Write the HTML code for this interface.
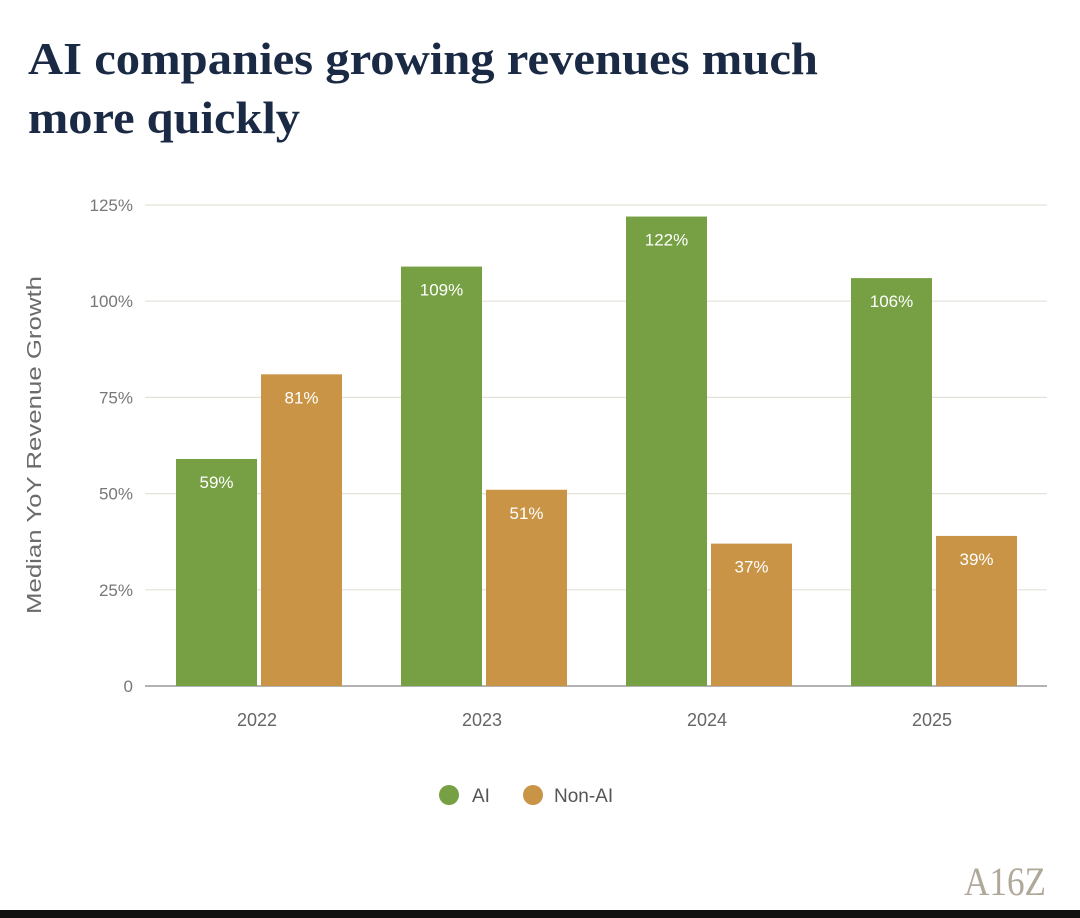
<!DOCTYPE html>
<html><head><meta charset="utf-8"><style>
html,body{margin:0;padding:0;background:#fff;width:1080px;height:918px;overflow:hidden}
</style></head><body>
<svg id="chart" width="1080" height="918" xmlns="http://www.w3.org/2000/svg">
<rect width="1080" height="918" fill="#fff"/>
<text x="28" y="74" textLength="790" lengthAdjust="spacingAndGlyphs" font-family="Liberation Serif, serif" font-size="46" font-weight="bold" fill="#1b2a44">AI companies growing revenues much</text>
<text x="28" y="133" textLength="272" lengthAdjust="spacingAndGlyphs" font-family="Liberation Serif, serif" font-size="46" font-weight="bold" fill="#1b2a44">more quickly</text>
<g id="grid"></g><g id="bars"></g>
<text transform="translate(41,445) rotate(-90)" text-anchor="middle" textLength="338" lengthAdjust="spacingAndGlyphs" font-family="Liberation Sans, sans-serif" font-size="20" fill="#6b6b6b">Median YoY Revenue Growth</text>
<g>
<circle cx="449" cy="795" r="10" fill="#76a043"/>
<text x="472" y="802" font-family="Liberation Sans, sans-serif" font-size="19" fill="#555">AI</text>
<circle cx="533" cy="795" r="10" fill="#c99446"/>
<text x="554" y="802" font-family="Liberation Sans, sans-serif" font-size="19" fill="#555">Non-AI</text>
</g>
<text x="1005" y="895" text-anchor="middle" textLength="82" lengthAdjust="spacingAndGlyphs" font-family="Liberation Serif, serif" font-size="40" fill="#b0a999">A16Z</text>
<rect x="0" y="910" width="1080" height="8" fill="#111"/>
</svg>
<script>
const categories = ["2022","2023","2024","2025"];
const aiValues = [59,109,122,106];
const nonAiValues = [81,51,37,39];
const tickValues = [0,25,50,75,100,125];
const tickLabels = ["0","25%","50%","75%","100%","125%"];
const NS="http://www.w3.org/2000/svg";
const y0=686, yTop=205, xL=145, xR=1047;
function y(v){return y0-(v/125)*(y0-yTop);}
function xc(i){return 257+i*225;}
function mk(tag,attrs,parent){const e=document.createElementNS(NS,tag);for(const k in attrs)e.setAttribute(k,attrs[k]);parent.appendChild(e);return e;}
const grid=document.getElementById('grid'), bars=document.getElementById('bars');
tickValues.forEach((t,i)=>{
  const l=mk('line',{x1:xL,x2:xR,y1:y(t),y2:y(t),stroke:i===0?'#9a9a9a':'#e4e2d8','stroke-width':i===0?1.5:1.2},grid);
  
  
  const tx=mk('text',{x:133,y:y(t)+6,'text-anchor':'end','font-family':'Liberation Sans, sans-serif','font-size':17,fill:'#777'},grid);
  tx.textContent=tickLabels[i];
  
  
});
categories.forEach((c,i)=>{
  const series=[[aiValues[i],'#76a043',xc(i)-81,'ai'],[nonAiValues[i],'#c99446',xc(i)+4,'non-ai']];
  series.forEach(([v,col,x,s])=>{
    const r=mk('rect',{x:x,y:y(v),width:81,height:y0-y(v),fill:col},bars);
    
    
    const t=mk('text',{x:x+40.5,y:y(v)+29,'text-anchor':'middle','font-family':'Liberation Sans, sans-serif','font-size':17,fill:'#fff'},bars);
    t.textContent=v+'%';
    
    
  });
  const xt=mk('text',{x:xc(i),y:726,'text-anchor':'middle','font-family':'Liberation Sans, sans-serif','font-size':18,fill:'#666'},bars);
  xt.textContent=c;
  
  
});
</script>
</body></html>
